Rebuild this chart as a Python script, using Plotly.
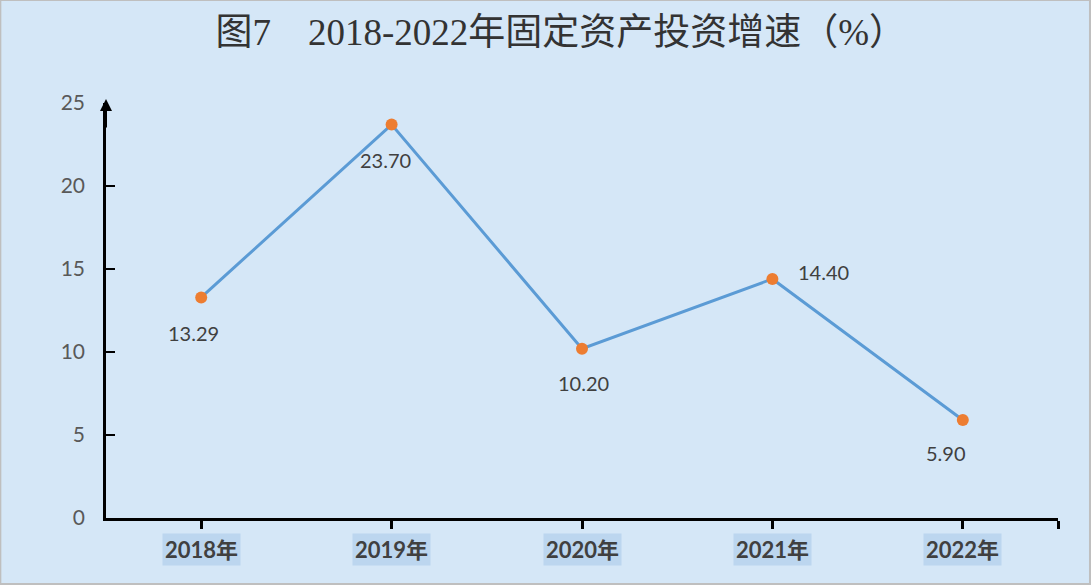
import plotly.graph_objects as go

# chart data
years = ['2018年', '2019年', '2020年', '2021年', '2022年']
growth = [13.29, 23.70, 10.20, 14.40, 5.90]
y_ticks = [0, 5, 10, 15, 20, 25]

# label offsets in pixels (dx, dy), as placed in the original
label_dx = [-8, -6, 1, 51, -17]
label_dy = [-36, -35, -34, 7, -33]

xs = list(range(len(years)))

fig = go.Figure()
fig.add_trace(go.Scatter(
    x=xs, y=growth, mode='lines+markers',
    line=dict(color='#5b9bd5', width=3),
    marker=dict(color='#ed7d31', size=12),
    cliponaxis=False, showlegend=False,
))

# data labels
for i, v in enumerate(growth):
    fig.add_annotation(x=i, y=v, xref='x', yref='y', text='%.2f' % v, showarrow=False,
                       xshift=label_dx[i], yshift=label_dy[i],
                       font=dict(family='Lato, Noto Sans', size=20, color='#404040'))

# x labels with highlighted background
for i, yr in enumerate(years):
    fig.add_annotation(x=i, y=0, xref='x', yref='y', text='<b>' + yr + '</b>',
                       showarrow=False, yshift=-31, bgcolor='#bcd6ef', borderpad=2,
                       font=dict(family='Lato, Noto Sans CJK SC', size=22, color='#404040'))

# arrow on top of y axis
fig.add_annotation(x=-0.5, y=25, xref='x', yref='y', ax=0, ay=30, axref='pixel', ayref='pixel',
                   showarrow=True, arrowhead=2, arrowsize=1.2, arrowwidth=2, arrowcolor='black',
                   yshift=4, text='')

# frame around picture
fig.add_shape(type='rect', xref='paper', yref='paper', x0=-0.111, x1=1.0336, y0=-0.159, y1=1.248,
              line=dict(color='#bfbfbf', width=2))

fig.update_xaxes(range=[-0.5, 4.5], tickvals=xs + [4.5], ticktext=[''] * 6,
                 showline=True, linecolor='black', linewidth=2.5,
                 ticks='outside', ticklen=8, tickwidth=2.5, tickcolor='black',
                 showgrid=False, zeroline=False)
fig.update_yaxes(range=[0, 25], tickvals=y_ticks,
                 showline=True, linecolor='black', linewidth=2.5,
                 ticks='inside', ticklen=9, tickwidth=2, tickcolor='black',
                 tickfont=dict(family='Lato, Noto Sans', size=21, color='#595959'),
                 ticklabelstandoff=14, showgrid=False, zeroline=False)

fig.update_layout(
    width=1091, height=585,
    margin=dict(l=106, r=33, t=103, b=67),
    paper_bgcolor='#d5e7f7', plot_bgcolor='#d5e7f7',
    title=dict(text='图7\u30002018-2022年固定资产投资增速（%）', x=0.514, xanchor='center',
               y=0.945, yanchor='middle',
               font=dict(family='Liberation Serif, Noto Sans CJK SC', size=37,
                         color='#333333')),
)

fig.write_html('out.html', config={'displayModeBar': False},
               post_script="document.body.style.margin='0';")
